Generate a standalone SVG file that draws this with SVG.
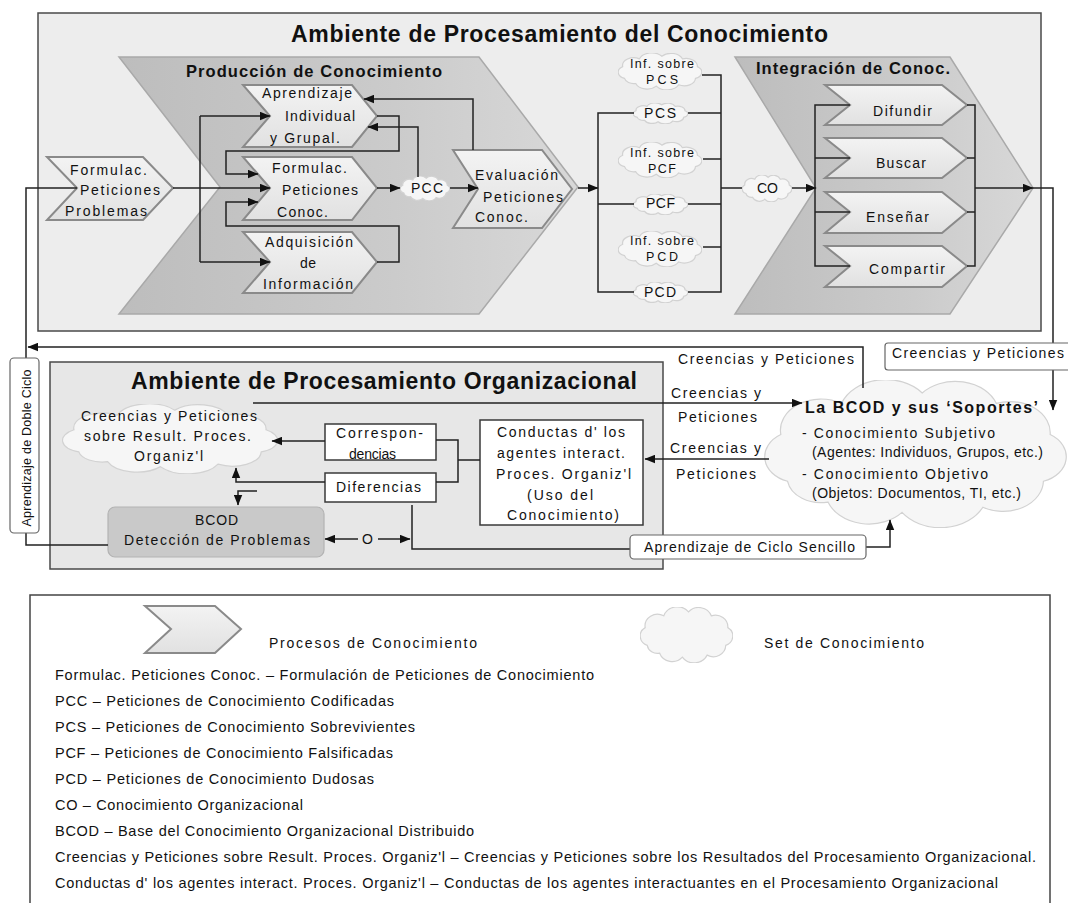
<svg xmlns="http://www.w3.org/2000/svg" width="1068" height="903" viewBox="0 0 1068 903">
<defs>
<style>
text{font-family:"Liberation Sans",Arial,sans-serif;fill:#111;}
.t{font-size:14px;}
.ts{font-size:12.5px;}
.title{font-size:23px;font-weight:bold;}
.sub{font-size:16.5px;font-weight:bold;}
.panel{fill:#ededed;stroke:#4a4a4a;stroke-width:1.5;}
.panel2{fill:#e7e7e7;stroke:#4a4a4a;stroke-width:1.5;}
.big{fill:url(#gBig);stroke:#a9a9a9;stroke-width:1.5;}
.chev{fill:url(#gChev);stroke:#8a8a8a;stroke-width:2;}
.cloud{fill:#f6f6f6;stroke:#d2d2d2;stroke-width:1.2;}
.box{fill:#fff;stroke:#3a3a3a;stroke-width:1.5;}
.lbl{fill:#fff;stroke:#666;stroke-width:1.2;}
.conn{fill:none;stroke:#222;stroke-width:1.5;}
.arr{marker-end:url(#ah);}
.leg{font-size:14.5px;}
</style>
<linearGradient id="gBig" x1="0" y1="0" x2="1" y2="0">
<stop offset="0" stop-color="#bdbdbd"/><stop offset="0.6" stop-color="#cbcbcb"/><stop offset="1" stop-color="#d8d8d8"/>
</linearGradient>
<linearGradient id="gChev" x1="0" y1="0" x2="0" y2="1">
<stop offset="0" stop-color="#f3f3f3"/><stop offset="1" stop-color="#e1e1e1"/>
</linearGradient>
<marker id="ah" viewBox="0 0 10 8" refX="9.5" refY="4" markerWidth="11" markerHeight="9" markerUnits="userSpaceOnUse" orient="auto">
<path d="M0,0 L10,4 L0,8 Z" fill="#111"/>
</marker>
<symbol id="cl" viewBox="5 3 90 57" preserveAspectRatio="none">
<path vector-effect="non-scaling-stroke" d="M12,42 A10,10 0 0 1 10,24 A12,12 0 0 1 28,12 A14,14 0 0 1 52,8 A13,13 0 0 1 74,12 A12,12 0 0 1 90,24 A10,10 0 0 1 88,42 A12,12 0 0 1 70,52 A14,14 0 0 1 46,54 A13,13 0 0 1 24,50 A10,10 0 0 1 12,42 Z"/>
</symbol>
</defs>

<rect width="1068" height="903" fill="#fff"/>

<!-- panels -->
<g id="panel-conocimiento">
<rect class="panel" x="38" y="13" width="1003" height="318"/>
<text class="title" x="291" y="42" textLength="537" lengthAdjust="spacing">Ambiente de Procesamiento del Conocimiento</text>
</g>
<g id="panel-organizacional">
<rect class="panel2" x="50" y="362" width="613" height="207"/>
<text class="title" x="131" y="389" textLength="506" lengthAdjust="spacing">Ambiente de Procesamiento Organizacional</text>
</g>

<g id="produccion">
<polygon class="big" points="119,57 479,57 578,187 479,314 119,314 220,187"/>
<text class="sub" x="186" y="77" textLength="256" lengthAdjust="spacing">Producción de Conocimiento</text>
</g>
<g id="integracion">
<polygon class="big" points="735,57 950,57 1033,188 950,314 735,314 816,188"/>
<text class="sub" x="756" y="74" textLength="194" lengthAdjust="spacing">Integración de Conoc.</text>
</g>

<!-- process nodes -->
<g id="formulac-problemas">
<polygon class="chev" points="47,157 143,157 173,188 143,220 47,220 77,188"/>
<text class="t" x="70" y="175" textLength="77" lengthAdjust="spacing">Formulac.</text>
<text class="t" x="80" y="195" textLength="80" lengthAdjust="spacing">Peticiones</text>
<text class="t" x="65" y="216" textLength="82" lengthAdjust="spacing">Problemas</text>
</g>
<g id="aprendizaje">
<polygon class="chev" points="243,85 352,85 377,116 352,147 243,147 270,116"/>
<text class="t" x="262" y="98" textLength="90" lengthAdjust="spacing">Aprendizaje</text>
<text class="t" x="285" y="121" textLength="70" lengthAdjust="spacing">Individual</text>
<text class="t" x="270" y="143" textLength="70" lengthAdjust="spacing">y Grupal.</text>
</g>
<g id="formulac-conoc">
<polygon class="chev" points="243,157 352,157 377,188 352,220 243,220 270,188"/>
<text class="t" x="272" y="173" textLength="75" lengthAdjust="spacing">Formulac.</text>
<text class="t" x="282" y="195" textLength="76" lengthAdjust="spacing">Peticiones</text>
<text class="t" x="277" y="217" textLength="51" lengthAdjust="spacing">Conoc.</text>
</g>
<g id="adquisicion">
<polygon class="chev" points="243,232 352,232 377,262 352,293 243,293 270,262"/>
<text class="t" x="265" y="247" textLength="88" lengthAdjust="spacing">Adquisición</text>
<text class="t" x="300" y="268" textLength="16" lengthAdjust="spacing">de</text>
<text class="t" x="263" y="289" textLength="90" lengthAdjust="spacing">Información</text>
</g>
<g id="pcc">
<use href="#cl" x="400" y="176" width="50" height="25" class="cloud"/>
<text class="t" x="411" y="193" textLength="32" lengthAdjust="spacing">PCC</text>
</g>
<g id="evaluacion">
<polygon class="chev" points="453,150 542,150 572,189 542,228 453,228 478,189"/>
<text class="t" x="475" y="180" textLength="83" lengthAdjust="spacing">Evaluación</text>
<text class="t" x="483" y="202" textLength="80" lengthAdjust="spacing">Peticiones</text>
<text class="t" x="475" y="222" textLength="53" lengthAdjust="spacing">Conoc.</text>
</g>

<!-- knowledge sets -->
<g id="inf-pcs">
<use href="#cl" x="618" y="53" width="84" height="37" class="cloud"/>
<text class="ts" x="630" y="68" textLength="64" lengthAdjust="spacing">Inf. sobre</text>
<text class="ts" x="646" y="84" textLength="32" lengthAdjust="spacing">PCS</text>
</g>
<g id="pcs">
<use href="#cl" x="633" y="103" width="55" height="21" class="cloud"/>
<text class="t" x="644" y="118" textLength="32" lengthAdjust="spacing">PCS</text>
</g>
<g id="inf-pcf">
<use href="#cl" x="618" y="142" width="84" height="36" class="cloud"/>
<text class="ts" x="630" y="157" textLength="64" lengthAdjust="spacing">Inf. sobre</text>
<text class="ts" x="648" y="173" textLength="28" lengthAdjust="spacing">PCF</text>
</g>
<g id="pcf">
<use href="#cl" x="633" y="194" width="55" height="21" class="cloud"/>
<text class="t" x="646" y="208" textLength="29" lengthAdjust="spacing">PCF</text>
</g>
<g id="inf-pcd">
<use href="#cl" x="618" y="231" width="84" height="36" class="cloud"/>
<text class="ts" x="630" y="245" textLength="64" lengthAdjust="spacing">Inf. sobre</text>
<text class="ts" x="646" y="261" textLength="32" lengthAdjust="spacing">PCD</text>
</g>
<g id="pcd">
<use href="#cl" x="633" y="282" width="55" height="21" class="cloud"/>
<text class="t" x="644" y="297" textLength="32" lengthAdjust="spacing">PCD</text>
</g>
<g id="co">
<use href="#cl" x="742" y="175" width="50" height="27" class="cloud"/>
<text class="t" x="757" y="193" textLength="21" lengthAdjust="spacing">CO</text>
</g>

<g id="difundir">
<polygon class="chev" points="825,85 942,85 967,105 942,125 825,125 850,105"/>
<text class="t" x="873" y="116" textLength="59" lengthAdjust="spacing">Difundir</text>
</g>
<g id="buscar">
<polygon class="chev" points="825,138 942,138 967,158 942,178 825,178 850,158"/>
<text class="t" x="876" y="168" textLength="50" lengthAdjust="spacing">Buscar</text>
</g>
<g id="ensenar">
<polygon class="chev" points="825,192 942,192 967,212 942,233 825,233 850,212"/>
<text class="t" x="866" y="222" textLength="63" lengthAdjust="spacing">Enseñar</text>
</g>
<g id="compartir">
<polygon class="chev" points="825,246 942,246 967,266 942,287 825,287 850,266"/>
<text class="t" x="869" y="274" textLength="76" lengthAdjust="spacing">Compartir</text>
</g>

<!-- organizational nodes -->
<g id="bcod-soportes">
<use href="#cl" x="764" y="380" width="303" height="148" class="cloud"/>
<text x="805" y="413" font-size="16" font-weight="bold" textLength="233" lengthAdjust="spacing">La BCOD y sus ‘Soportes’</text>
<text class="t" x="802" y="438" textLength="193" lengthAdjust="spacing">- Conocimiento Subjetivo</text>
<text class="t" x="812" y="457" textLength="231" lengthAdjust="spacing">(Agentes: Individuos, Grupos, etc.)</text>
<text class="t" x="802" y="479" textLength="186" lengthAdjust="spacing">- Conocimiento Objetivo</text>
<text class="t" x="812" y="498" textLength="209" lengthAdjust="spacing">(Objetos: Documentos, TI, etc.)</text>
</g>
<g id="creencias-resultados">
<use href="#cl" x="62" y="404" width="216" height="70" class="cloud"/>
<text class="t" x="81" y="421" textLength="176" lengthAdjust="spacing">Creencias y Peticiones</text>
<text class="t" x="84" y="441" textLength="167" lengthAdjust="spacing">sobre Result. Proces.</text>
<text class="t" x="134" y="461" textLength="69" lengthAdjust="spacing">Organiz'l</text>
</g>
<g id="correspondencias">
<rect class="box" x="325" y="424" width="111" height="36"/>
<text class="t" x="336" y="438" textLength="87" lengthAdjust="spacing">Correspon-</text>
<text class="t" x="349" y="459" textLength="47" lengthAdjust="spacing">dencias</text>
</g>
<g id="diferencias">
<rect class="box" x="325" y="473" width="111" height="29"/>
<text class="t" x="336" y="492" textLength="85" lengthAdjust="spacing">Diferencias</text>
</g>
<g id="conductas">
<rect class="box" x="480" y="420" width="163" height="105"/>
<text class="t" x="497" y="437" textLength="128" lengthAdjust="spacing">Conductas d' los</text>
<text class="t" x="497" y="458" textLength="128" lengthAdjust="spacing">agentes interact.</text>
<text class="t" x="496" y="479" textLength="135" lengthAdjust="spacing">Proces. Organiz'l</text>
<text class="t" x="527" y="500" textLength="66" lengthAdjust="spacing">(Uso del</text>
<text class="t" x="507" y="520" textLength="112" lengthAdjust="spacing">Conocimiento)</text>
</g>
<g id="bcod-deteccion">
<rect x="108" y="507" width="216" height="50" rx="7" fill="#c9c9c9" stroke="#b3b3b3" stroke-width="1.2"/>
<text class="t" x="195" y="525" textLength="43" lengthAdjust="spacing">BCOD</text>
<text class="t" x="124" y="545" textLength="186" lengthAdjust="spacing">Detección de Problemas</text>
</g>

<!-- connectors -->
<g id="connectors" class="conn">
<path class="arr" d="M173,188 H270"/>
<path d="M200,116 V262"/>
<path class="arr" d="M200,116 H270"/>
<path class="arr" d="M200,262 H270"/>
<path class="arr" d="M377,116 H399 V151 H226 V174 H258"/>
<path class="arr" d="M377,262 H399 V226 H226 V202 H258"/>
<path class="arr" d="M377,188 H400"/>
<path class="arr" d="M450,188 H478"/>
<path class="arr" d="M418,177 V127 H368"/>
<path class="arr" d="M473,150 V99 H364"/>
<path class="arr" d="M578,188 H598"/>
<path d="M634,113 H598 V292 H634 M598,204 H634"/>
<path d="M702,75 H721 V292 H688 M688,113 H721 M703,159 H721 M688,204 H721 M703,247 H721"/>
<path d="M721,188 H742"/>
<path class="arr" d="M792,188 H816"/>
<path d="M850,105 H815 V266 H850 M815,158 H850 M815,212 H850"/>
<path d="M967,105 H975 V266 H967 M967,158 H975 M967,212 H975"/>
<path class="arr" d="M975,188 H1033"/>
<path class="arr" d="M1033,188 H1053 V410"/>
<path class="arr" d="M863,388 V347 H28"/>
<path d="M108,545 H26 V188 H77"/>
<path class="arr" d="M253,403 H802"/>
<path class="arr" d="M769,459 H645"/>
<path d="M480,460 H458 M436,440 H458 V482 H436"/>
<path class="arr" d="M325,441 H272"/>
<path class="arr" d="M325,482 H236 V468"/>
<path class="arr" d="M257,491 H238 V505"/>
<path class="arr" d="M358,539 H325"/>
<path class="arr" d="M378,539 H410"/>
<path d="M412,505 V549 H630"/>
<path class="arr" d="M866,547 H890 V520"/>
</g>

<!-- connector labels -->
<g id="connector-labels">
<rect class="lbl" x="885" y="343" width="190" height="27" rx="3" stroke="#555"/>
<text class="t" x="892" y="358" textLength="172" lengthAdjust="spacing">Creencias y Peticiones</text>
<text class="t" x="678" y="364" textLength="176" lengthAdjust="spacing">Creencias y Peticiones</text>
<text class="t" x="671" y="398" textLength="90" lengthAdjust="spacing">Creencias y</text>
<text class="t" x="678" y="422" textLength="79" lengthAdjust="spacing">Peticiones</text>
<text class="t" x="670" y="453" textLength="91" lengthAdjust="spacing">Creencias y</text>
<text class="t" x="676" y="479" textLength="80" lengthAdjust="spacing">Peticiones</text>
<text class="t" x="362" y="544">O</text>
<rect class="lbl" x="630" y="535" width="236" height="24" rx="4"/>
<text class="t" x="644" y="552" textLength="211" lengthAdjust="spacing" fill="#333">Aprendizaje de Ciclo Sencillo</text>
<rect class="lbl" x="10" y="358" width="29" height="175" rx="4" stroke="#444"/>
<text class="ts" transform="translate(31,448) rotate(-90)" text-anchor="middle" textLength="157" lengthAdjust="spacing">Aprendizaje de Doble Ciclo</text>
</g>

<!-- legend -->
<g id="legend">
<rect x="30" y="595" width="1020" height="330" fill="#fff" stroke="#444" stroke-width="1.5"/>
<polygon class="chev" points="145,606 215,606 241,629 215,653 145,653 171,629" stroke="#9a9a9a"/>
<text class="t" x="269" y="648" textLength="208" lengthAdjust="spacing">Procesos de Conocimiento</text>
<use href="#cl" x="640" y="607" width="93" height="56" class="cloud"/>
<text class="t" x="764" y="648" textLength="160" lengthAdjust="spacing">Set de Conocimiento</text>
<text class="leg" x="55" y="680" textLength="539" lengthAdjust="spacing">Formulac. Peticiones Conoc. – Formulación de Peticiones de Conocimiento</text>
<text class="leg" x="55" y="706" textLength="339" lengthAdjust="spacing">PCC – Peticiones de Conocimiento Codificadas</text>
<text class="leg" x="55" y="732" textLength="360" lengthAdjust="spacing">PCS – Peticiones de Conocimiento Sobrevivientes</text>
<text class="leg" x="55" y="758" textLength="338" lengthAdjust="spacing">PCF – Peticiones de Conocimiento Falsificadas</text>
<text class="leg" x="55" y="784" textLength="319" lengthAdjust="spacing">PCD – Peticiones de Conocimiento Dudosas</text>
<text class="leg" x="55" y="810" textLength="248" lengthAdjust="spacing">CO – Conocimiento Organizacional</text>
<text class="leg" x="55" y="836" textLength="419" lengthAdjust="spacing">BCOD – Base del Conocimiento Organizacional Distribuido</text>
<text class="leg" x="55" y="862" textLength="981" lengthAdjust="spacing">Creencias y Peticiones sobre Result. Proces. Organiz'l – Creencias y Peticiones sobre los Resultados del Procesamiento Organizacional.</text>
<text class="leg" x="55" y="888" textLength="943" lengthAdjust="spacing">Conductas d' los agentes interact. Proces. Organiz'l – Conductas de los agentes interactuantes en el Procesamiento Organizacional</text>
</g>
</svg>
